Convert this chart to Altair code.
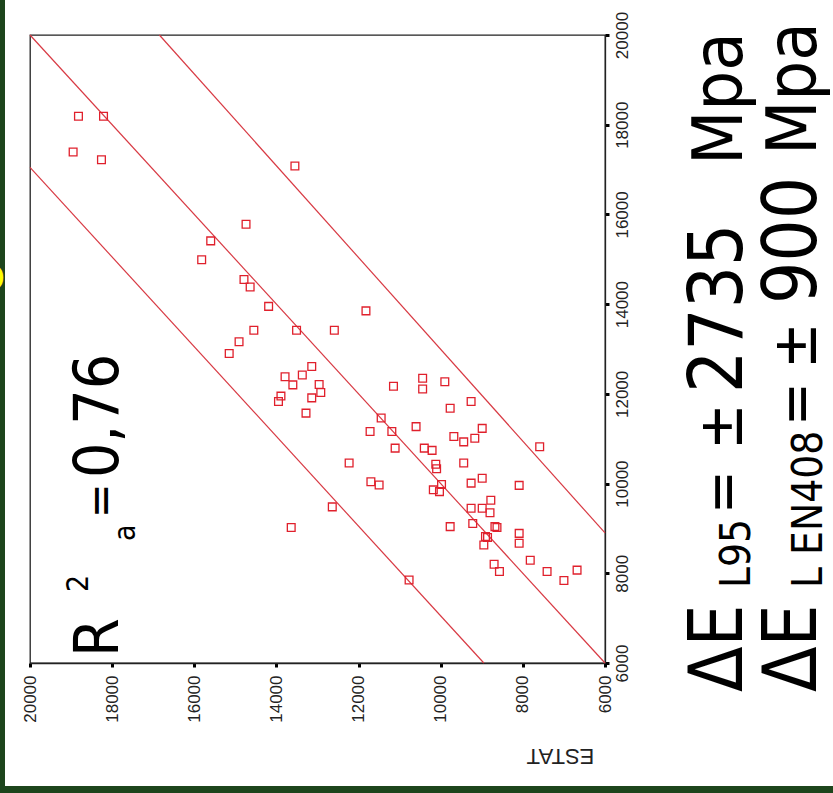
import altair as alt
import pandas as pd

# ---- data ----
estat = [18820, 18210, 18950, 18260, 13550, 14740, 15600, 15820, 14790, 14640,
         14190, 11820, 14550, 13510, 12590, 14910, 15150, 13140, 13790, 13370,
         13600, 12960, 12920, 13890, 13950, 13140, 13280, 11150, 11450, 11720,
         11190, 10600, 11110, 12230, 11700, 11500, 12640, 13640, 10770, 10440,
         10440, 9900, 9260, 9770, 8990, 9680, 9440, 9170, 7590, 10400,
         10210, 10120, 10100, 9440, 8990, 9260, 8090, 9980, 10180, 10030,
         8780, 9260, 8990, 8800, 9770, 9220, 8680, 8630, 8090, 8910,
         8860, 8950, 8090, 7820, 8700, 8570, 7410, 6680, 7000]
e_meas = [18190, 18190, 17390, 17220, 17080, 15780, 15410, 14990, 14550, 14380,
          13950, 13850, 13420, 13420, 13420, 13160, 12900, 12610, 12380, 12420,
          12200, 12210, 12030, 11950, 11830, 11910, 11570, 12170, 11460, 11160,
          11160, 11270, 10790, 10460, 10040, 9970, 9480, 9020, 7850, 12350,
          12110, 12270, 11830, 11680, 11230, 11050, 10930, 11010, 10820, 10790,
          10740, 10430, 10330, 10460, 10120, 10010, 9960, 9980, 9860, 9820,
          9630, 9450, 9450, 9350, 9040, 9110, 9040, 9020, 8890, 8820,
          8800, 8630, 8670, 8290, 8200, 8040, 8040, 8070, 7840]

line_names = ["fit", "fit", "lower", "lower", "upper", "upper"]
line_e = [6000, 20000, 6000, 17050, 8900, 20000]
line_estat = [6000, 20000, 8950, 20000, 6000, 16850]

tick_values = [6000, 8000, 10000, 12000, 14000, 16000, 18000, 20000]

pts = pd.DataFrame({"ESTAT": estat, "E": e_meas})
lines = pd.DataFrame({"series": line_names, "E": line_e, "ESTAT": line_estat})
one = pd.DataFrame({"k": [0]})

W, H = 575, 628
GREEN = "#1d451c"
RED = "#e0202c"
LINE_RED = "#d83a44"
FONT = "DejaVu Sans Condensed, DejaVu Sans, sans-serif"
AXFONT = "Liberation Sans"

xscale = alt.Scale(domain=[6000, 20000], reverse=True, nice=False, zero=False)
yscale = alt.Scale(domain=[6000, 20000], nice=False, zero=False)

xaxis = alt.Axis(values=tick_values, format="d", labelAngle=270, labelAlign="right",
                 labelBaseline="middle", labelPadding=8, labelFontSize=17,
                 tickSize=4, tickWidth=3, grid=False,
                 title="ESTAT", titleAngle=180, titleX=530, titleY=92,
                 titleAlign="center", titleBaseline="middle", titleFontSize=22,
                 titleFontWeight="normal")
yaxis = alt.Axis(orient="right", values=tick_values, format="d", labelAngle=270,
                 labelAlign="center", labelBaseline="top", labelPadding=5,
                 labelFontSize=17, tickSize=4, tickWidth=3, grid=False, title=None)

line_layer = alt.Chart(lines).mark_line(color=LINE_RED, strokeWidth=1.2).encode(
    x=alt.X("ESTAT:Q", scale=xscale, axis=xaxis),
    y=alt.Y("E:Q", scale=yscale, axis=yaxis),
    detail="series:N",
)

pt_layer = alt.Chart(pts).mark_point(shape="square", filled=False, size=60,
                                     strokeWidth=1.3, color=RED, opacity=1).encode(
    x=alt.X("ESTAT:Q", scale=xscale, axis=xaxis),
    y=alt.Y("E:Q", scale=yscale, axis=yaxis),
)


def txt(s, x, y, size, color="black", weight="normal", align="left", angle=270, baseline="alphabetic", font=FONT):
    return alt.Chart(one).mark_text(text=s, angle=angle, align=align, baseline=baseline,
                                    fontSize=size, font=font, color=color,
                                    fontWeight=weight).encode(
        x=alt.value(x), y=alt.value(y))


texts = [
    # R^2_a = 0,76
    txt("R", 88, 622, 62),
    txt("2", 58, 557, 30),
    txt("a", 105, 506, 30),
    txt("=", 86, 483, 46),
    txt("0,76", 88, 443, 62),
    # line 1
    txt("ΔE", 712, 657, 74),
    txt("L95", 720, 553, 42),
    txt("=", 712, 479, 58),
    txt("±", 712, 415, 62),
    txt("2735", 712, 358, 74),
    txt("Mpa", 712, 130, 70),
    # line 2
    txt("ΔE", 786, 657, 74),
    txt("L EN408", 792, 553, 42),
    txt("=", 786, 391, 58),
    txt("±", 786, 334, 62),
    txt("900", 786, 269, 74),
    txt("Mpa", 786, 120, 70),
]

left_strip = alt.Chart(one).mark_rect(color=GREEN).encode(
    x=alt.value(-30), x2=alt.value(-25), y=alt.value(-35), y2=alt.value(758))
bottom_strip = alt.Chart(one).mark_rect(color=GREEN).encode(
    x=alt.value(-30), x2=alt.value(803), y=alt.value(751), y2=alt.value(758))
yellow = txt("D", -25, 245, 38, color="#ffff00", weight="bold", align="right",
             angle=0, baseline="middle")

chart = alt.layer(line_layer, pt_layer, *texts, left_strip, bottom_strip, yellow).properties(
    width=W, height=H,
    padding={"left": 30, "top": 35, "right": 228, "bottom": 130},
    autosize=alt.AutoSizeParams(type="none"),
    background="white",
).configure_view(
    stroke="#222", strokeWidth=1.3
).configure_axis(
    zindex=1, domainColor="#222", domainWidth=1.3, tickColor="black",
    labelColor="#222", titleColor="#222", labelFont=AXFONT, titleFont=AXFONT
)

chart.save("out.html", embed_options={"renderer": "svg", "actions": False})
